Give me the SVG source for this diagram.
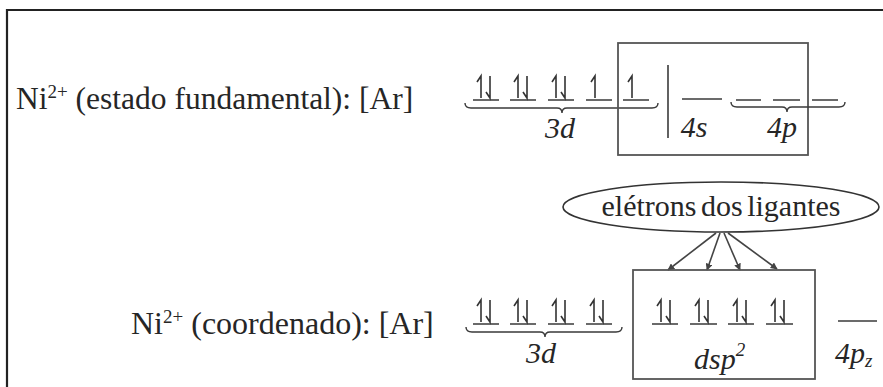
<svg xmlns="http://www.w3.org/2000/svg" width="883" height="387" viewBox="0 0 883 387">
<style>
text{font-family:'Liberation Serif','Times New Roman',Times,serif;fill:#262626}
.lbl{font-style:italic;font-size:30px}
.ln{stroke:#3a3a3a;stroke-width:1.6;fill:none}
.box{stroke:#555;stroke-width:1.8;fill:none}
.br{stroke:#3a3a3a;stroke-width:1.4;fill:none}
.ar{stroke:#333;stroke-width:1.6;fill:none}
.con{stroke:#444;stroke-width:1.6;fill:none}
</style>
<defs>
<marker id="ah" viewBox="0 0 10 10" refX="9" refY="5" markerWidth="7" markerHeight="7" orient="auto" markerUnits="userSpaceOnUse">
<path d="M0,0 L10,5 L0,10 z" fill="#444"/>
</marker>
<g id="up"><path class="ar" d="M0,22 V0 L-4,6"/></g>
<g id="dn"><path class="ar" d="M0,0 V22 L-4,16"/></g>
</defs>
<rect width="883" height="387" fill="#fff"/>
<path d="M7,387 V10 H883" stroke="#222" stroke-width="2.2" fill="none"/>

<g id="row1">
<text x="16" y="109" font-size="31.5">Ni<tspan font-size="19" dy="-11">2+</tspan><tspan dy="11"> (estado fundamental): [Ar]</tspan></text>
<g id="r1-3d">
<path class="ln" d="M473,100 h26 M510,100 h26 M548,100 h26 M586,100 h26 M623,100 h26"/>
<use href="#up" x="481" y="76"/><use href="#dn" x="490" y="76"/>
<use href="#up" x="518" y="76"/><use href="#dn" x="527" y="76"/>
<use href="#up" x="556" y="76"/><use href="#dn" x="565" y="76"/>
<use href="#up" x="595" y="76"/>
<use href="#up" x="632" y="76"/>
<path class="br" d="M465,103 Q465,108 471,108 L557,108 Q562,108 562,113 Q562,108 567,108 L652,108 Q658,108 658,103"/>
<text class="lbl" x="560" y="138" text-anchor="middle">3d</text>
</g>
<g id="r1-box">
<rect class="box" x="618" y="43" width="190" height="112"/>
<path class="ln" d="M668,65 V138"/>
</g>
<g id="r1-4s">
<path class="ln" d="M682,99 h40"/>
<text class="lbl" x="694" y="137" text-anchor="middle">4s</text>
</g>
<g id="r1-4p">
<path class="ln" d="M736,100 h25 M773,100 h27 M812,100 h26"/>
<path class="br" d="M731,102 Q731,107 737,107 L782,107 Q787,107 787,112 Q787,107 792,107 L839,107 Q845,107 845,102"/>
<text class="lbl" x="782" y="137" text-anchor="middle">4p</text>
</g>
</g>

<g id="ligantes">
<ellipse cx="721" cy="207" rx="158" ry="25" fill="none" stroke="#333" stroke-width="1.6"/>
<text x="721" y="216" font-size="30" text-anchor="middle" word-spacing="-3">elétrons dos ligantes</text>
</g>

<g id="connectors">
<path class="con" d="M716,233 L668,270" marker-end="url(#ah)"/>
<path class="con" d="M720,233 L707,270" marker-end="url(#ah)"/>
<path class="con" d="M724,233 L740,270" marker-end="url(#ah)"/>
<path class="con" d="M728,233 L777,269" marker-end="url(#ah)"/>
</g>

<g id="row2">
<text x="131" y="334" font-size="32">Ni<tspan font-size="19" dy="-11">2+</tspan><tspan dy="11"> (coordenado): [Ar]</tspan></text>
<g id="r2-3d">
<path class="ln" d="M473,324 h26 M510,324 h26 M548,324 h26 M586,324 h26"/>
<use href="#up" x="481" y="300"/><use href="#dn" x="490" y="300"/>
<use href="#up" x="518" y="300"/><use href="#dn" x="527" y="300"/>
<use href="#up" x="556" y="300"/><use href="#dn" x="565" y="300"/>
<use href="#up" x="594" y="300"/><use href="#dn" x="603" y="300"/>
<path class="br" d="M466,327 Q466,332 472,332 L540,332 Q545,332 545,337 Q545,332 550,332 L616,332 Q622,332 622,327"/>
<text class="lbl" x="541" y="363" text-anchor="middle">3d</text>
</g>
<g id="r2-dsp">
<rect class="box" x="633" y="270" width="182" height="109"/>
<path class="ln" d="M652,324 h26 M690,324 h27 M728,324 h26 M766,324 h27"/>
<use href="#up" x="661" y="300"/><use href="#dn" x="670" y="300"/>
<use href="#up" x="699" y="300"/><use href="#dn" x="708" y="300"/>
<use href="#up" x="737" y="300"/><use href="#dn" x="746" y="300"/>
<use href="#up" x="775" y="300"/><use href="#dn" x="784" y="300"/>
<text class="lbl" x="694" y="369">dsp<tspan font-size="19" dy="-13">2</tspan></text>
</g>
<g id="r2-4pz">
<path class="ln" d="M838,321 h39"/>
<text class="lbl" x="835" y="363">4p<tspan font-size="19" dy="4">z</tspan></text>
</g>
</g>
</svg>
